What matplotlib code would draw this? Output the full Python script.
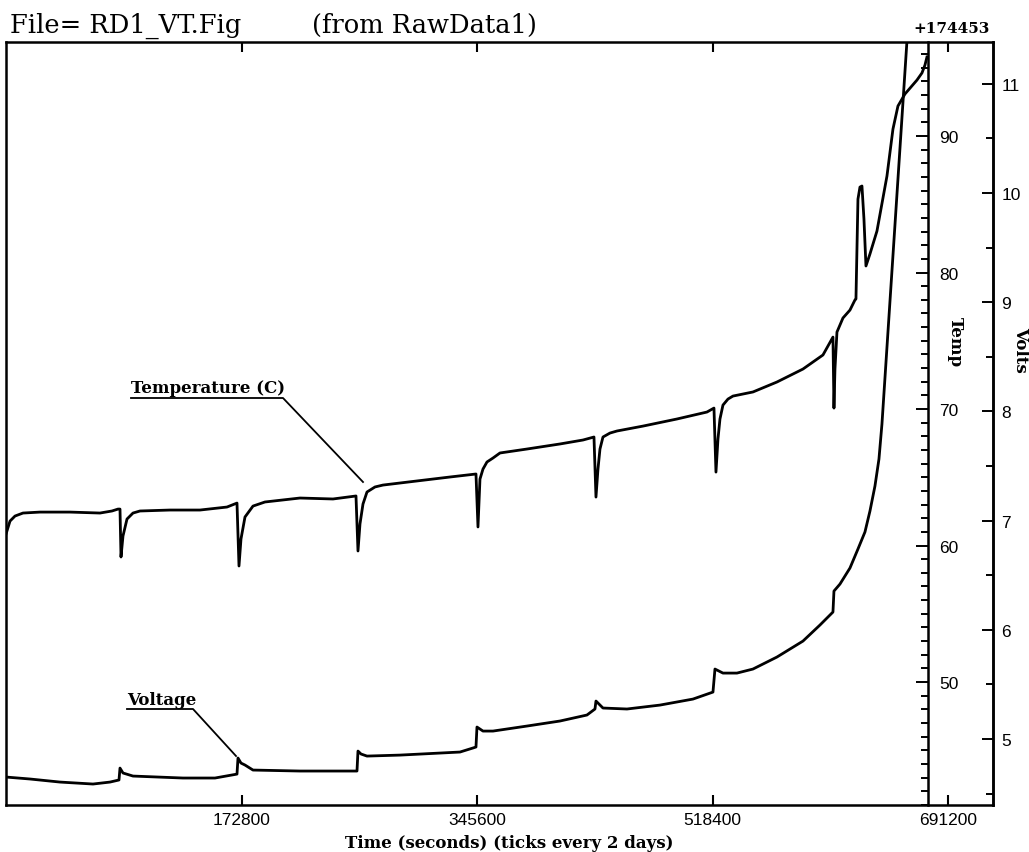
import matplotlib
matplotlib.use("Agg")
import matplotlib.pyplot as plt
from matplotlib.lines import Line2D
from matplotlib.ticker import MultipleLocator, FixedLocator

plt.rcParams['font.family'] = ['Liberation Sans', 'DejaVu Sans']

# Time axis in seconds
temp_time = [0, 2934, 6602, 12470, 24939, 46944, 68949, 77751, 82152, 83619,
             84353, 85820, 88754, 93155, 98289, 120294, 142299, 162104, 169439,
             170906, 172373, 175307, 181175, 189977, 215649, 239855, 256725,
             258192, 259659, 261860, 264794, 270662, 276530, 301469, 325674, 344745,
             346212, 347679, 349880, 352814, 357215, 362349, 382154, 406359, 423230, 431298,
             432765, 434232, 435699, 437900, 443034, 448169, 467240, 492179, 514184, 519318,
             520785, 522252, 523719, 525920, 529587, 533255, 547925, 565529, 584600, 599270, 606605,
             607338, 608072, 609539, 613940, 619074, 622742, 623475, 624942, 626409, 627876,
             629343, 630810, 633744, 638879, 646214, 650615, 654282, 659417, 668219, 671886,
             674087, 675554]
temp_c = [60.84, 61.79, 62.16, 62.38, 62.45, 62.45, 62.38, 62.53, 62.67, 62.67,
          59.16, 60.70, 61.94, 62.38, 62.53, 62.60, 62.60, 62.82, 63.11,
          58.50, 60.48, 62.09, 62.89, 63.19, 63.48, 63.41, 63.63,
          59.60, 61.58, 63.04, 63.92, 64.29, 64.43, 64.73, 65.02, 65.24,
          61.36, 64.87, 65.60, 66.12, 66.41, 66.78, 67.07, 67.44, 67.73, 67.95,
          63.55, 65.60, 67.07, 67.95, 68.24, 68.39, 68.75, 69.27, 69.78, 70.07,
          65.38, 67.80, 69.27, 70.29, 70.73, 70.95, 71.25, 71.98, 72.93, 73.96, 75.27,
          70.07, 72.93, 75.64, 76.67, 77.25, 77.99, 78.06, 85.38, 86.26, 86.34,
          83.92, 80.48, 81.36, 83.04, 87.07, 90.51, 92.20, 93.08, 94.10, 94.62,
          95.20, 95.79]

volt_time = [0, 17604, 39609, 63815, 76284, 82886, 83619, 85820, 93155, 129830,
             153302, 169439, 170172, 172373, 175307, 181175, 215649, 257459,
             258192, 260393, 264794, 288999, 333009, 342545, 344745,
             345479, 349880, 357215, 382154, 406359, 426164, 432032,
             432765, 437900, 455504, 479709, 503915, 518585,
             520052, 525920, 536189, 547925, 565529, 584600, 597069, 606605,
             607338, 611739, 619074, 624942, 630077, 633744, 637412, 640346,
             642546, 646947, 652082, 660884, 664551]
volt_v = [4.652, 4.634, 4.606, 4.588, 4.606, 4.625, 4.734, 4.689, 4.661, 4.643,
          4.643, 4.679, 4.826, 4.780, 4.762, 4.716, 4.707, 4.707,
          4.890, 4.863, 4.844, 4.853, 4.881, 4.918, 4.927,
          5.110, 5.073, 5.073, 5.119, 5.165, 5.220, 5.275,
          5.348, 5.284, 5.275, 5.311, 5.366, 5.430,
          5.641, 5.604, 5.604, 5.641, 5.751, 5.897, 6.044, 6.163,
          6.355, 6.419, 6.566, 6.740, 6.896, 7.088, 7.317, 7.564,
          7.885, 8.727, 9.707, 11.392, 12.097]

time_ticks = [172800, 345600, 518400, 691200]
temp_ticks = [50, 60, 70, 80, 90]
volt_ticks = [5, 6, 7, 8, 9, 10, 11]

W, H = 1029, 853
fig = plt.figure(figsize=(W / 100, H / 100), dpi=100)

def fx(px):
    return px / W

def fy(py):
    return 1 - py / H

ax = fig.add_axes([fx(6), fy(806), 987 / W, 763 / H])
ax.set_xlim(0, 724000)
ax.set_yticks([])
ax.set_xticks(time_ticks)
ax.set_xticklabels([str(t) for t in time_ticks])
ax.tick_params(axis='x', direction='in', length=7, width=1.5, top=True,
               bottom=True, labelsize=12.5, pad=5)
for s in ax.spines.values():
    s.set_linewidth(1.8)

# temperature axis sits inside the frame, volts axis on the right edge
ax_t = ax.twinx()
ax_v = ax.twinx()
for a in (ax_t, ax_v):
    for side in ('left', 'top', 'bottom'):
        a.spines[side].set_visible(False)
ax_t.spines['right'].set_position(('axes', 922 / 987))
ax_t.spines['right'].set_linewidth(1.8)
ax_v.spines['right'].set_linewidth(1.8)

ax_t.set_ylim(40.99, 96.89)
ax_t.yaxis.set_major_locator(FixedLocator(temp_ticks))
ax_t.yaxis.set_minor_locator(MultipleLocator(1))
ax_t.tick_params(axis='y', which='major', direction='in', length=9, width=1.4,
                 labelsize=12.5, pad=8)
ax_t.tick_params(axis='y', which='minor', direction='in', length=5, width=1.4)

ax_v.set_ylim(4.396, 11.383)
ax_v.yaxis.set_major_locator(FixedLocator(volt_ticks))
ax_v.yaxis.set_minor_locator(MultipleLocator(0.5))
ax_v.tick_params(axis='y', which='major', direction='in', length=8, width=1.4,
                 labelsize=12.5, pad=6)
ax_v.tick_params(axis='y', which='minor', direction='in', length=5, width=1.4)

ax_t.plot(temp_time, temp_c, color='black', lw=2.0, solid_joinstyle='round')
ax_v.plot(volt_time, volt_v, color='black', lw=2.0, solid_joinstyle='round')

bold = dict(family='DejaVu Serif', fontweight='bold', fontsize=12)
fig.text(fx(955), fy(342), 'Temp', rotation=-90, ha='center', va='center', **bold)
fig.text(fx(1021), fy(350), 'Volts', rotation=-90, ha='center', va='center', **bold)
fig.text(fx(509), fy(844), 'Time (seconds) (ticks every 2 days)', ha='center',
         va='center', **bold)

# header
fig.text(fx(10), fy(33), 'File= RD1_VT.Fig', family='DejaVu Serif', fontsize=18.5,
         va='baseline', ha='left')
fig.text(fx(312), fy(33), '(from RawData1)', family='DejaVu Serif', fontsize=18.5,
         va='baseline', ha='left')
fig.text(fx(990), fy(33), '+174453', family='DejaVu Serif', fontweight='bold',
         fontsize=11, va='baseline', ha='right')

# curve labels with underline and leader
fig.text(fx(131), fy(393), 'Temperature (C)', va='baseline', ha='left', **bold)
fig.add_artist(Line2D([fx(131), fx(283), fx(363)], [fy(399), fy(399), fy(483)],
                      color='black', lw=1.3))
fig.text(fx(127), fy(705), 'Voltage', va='baseline', ha='left', **bold)
fig.add_artist(Line2D([fx(127), fx(193), fx(236)], [fy(710), fy(710), fy(757)],
                      color='black', lw=1.3))

fig.savefig('out.png', dpi=100)
